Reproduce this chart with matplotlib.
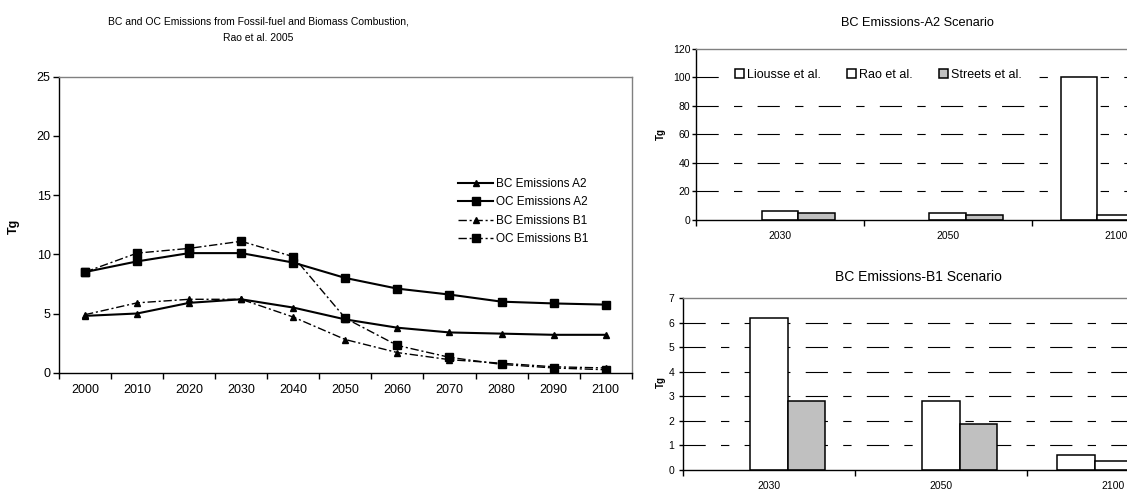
import numpy as np
import matplotlib
matplotlib.use("Agg")
import matplotlib.pyplot as plt
from matplotlib.ticker import FixedLocator, NullFormatter, FixedFormatter

plt.rcParams['font.family'] = ['Liberation Sans', 'DejaVu Sans']
plt.rcParams['lines.scale_dashes'] = False

# ---- Rao et al. 2005 projections (Tg) ----
years = ['2000', '2010', '2020', '2030', '2040', '2050',
         '2060', '2070', '2080', '2090', '2100']
bc_a2 = [4.8, 5.0, 5.9, 6.2, 5.5, 4.5, 3.8, 3.4, 3.3, 3.2, 3.2]
oc_a2 = [8.5, 9.4, 10.1, 10.1, 9.3, 8.0, 7.1, 6.6, 6.0, 5.85, 5.75]
bc_b1 = [4.9, 5.9, 6.2, 6.2, 4.7, 2.8, 1.7, 1.1, 0.8, 0.5, 0.4]
oc_b1 = [8.5, 10.1, 10.5, 11.1, 9.8, 4.6, 2.3, 1.3, 0.7, 0.4, 0.25]

# ---- BC comparison between studies ----
scen_years = ['2030', '2050', '2100']
a2_liousse = [np.nan, np.nan, 100.0]
a2_rao = [6.2, 4.5, 3.2]
a2_streets = [4.9, 3.5, np.nan]
b1_liousse = [np.nan, np.nan, 0.6]
b1_rao = [6.2, 2.8, 0.35]
b1_streets = [2.8, 1.85, np.nan]
study_names = ['Liousse et al.', 'Rao et al.', 'Streets et al.']

W, H = 1127, 492
fig = plt.figure(figsize=(W / 100, H / 100), dpi=100)


def px_axes(left, top, right, bottom):
    return fig.add_axes([left / W, (H - bottom) / H, (right - left) / W, (bottom - top) / H])


def style_box(ax):
    ax.spines['left'].set_color('black')
    ax.spines['bottom'].set_color('black')
    ax.spines['top'].set_color('#808080')
    ax.spines['right'].set_color('#808080')
    for s in ax.spines.values():
        s.set_linewidth(1.0)


def category_axis(ax, labels, fontsize, pad):
    n = len(labels)
    ax.set_xlim(-0.5, n - 0.5)
    ax.xaxis.set_major_locator(FixedLocator(np.arange(n + 1) - 0.5))
    ax.xaxis.set_major_formatter(NullFormatter())
    ax.xaxis.set_minor_locator(FixedLocator(np.arange(n)))
    ax.xaxis.set_minor_formatter(FixedFormatter(labels))
    ax.tick_params(axis='x', which='major', direction='out', length=4, width=1, colors='black')
    ax.tick_params(axis='x', which='minor', length=0, labelsize=fontsize, pad=pad)


# ---------------- Left: line chart ----------------
ax = px_axes(59, 76.7, 631.7, 372.7)
style_box(ax)
x = np.arange(len(years))
dashdot = (0, (6, 2, 1.5, 2))
ax.plot(x, bc_a2, color='black', lw=1.5, marker='^', ms=5, label='BC Emissions A2')
ax.plot(x, oc_a2, color='black', lw=1.5, marker='s', ms=5.5, label='OC Emissions A2')
ax.plot(x, bc_b1, color='black', lw=1.0, ls=dashdot, marker='^', ms=5, label='BC Emissions B1')
ax.plot(x, oc_b1, color='black', lw=1.0, ls=dashdot, marker='s', ms=5.5, label='OC Emissions B1')
ax.set_ylim(0, 25)
ax.set_yticks([0, 5, 10, 15, 20, 25])
ax.tick_params(axis='y', direction='out', length=4, width=1, labelsize=9, pad=2)
category_axis(ax, years, 9, 8)
fig.text(13.5 / W, 1 - 226 / H, 'Tg', rotation=90, ha='center', va='center',
         fontsize=9, fontweight='bold')
ax.legend(loc='upper left', bbox_to_anchor=(452 / W, 1 - 172 / H),
          bbox_transform=fig.transFigure, frameon=False, fontsize=8.5,
          handlelength=3.0, handletextpad=0.2, labelspacing=0.55, borderpad=0)
fig.text(258 / W, 1 - 22 / H,
         'BC and OC Emissions from Fossil-fuel and Biomass Combustion,',
         ha='center', va='center', fontsize=7.5)
fig.text(258 / W, 1 - 38 / H, 'Rao et al. 2005', ha='center', va='center', fontsize=7.5)


# ---------------- Right: bar charts ----------------
grid_dashes = (16, 11, 6, 11)
bw = 0.218


def bar_panel(ax, liousse, rao, streets, ymax, ystep, ypad):
    style_box(ax)
    xc = np.arange(len(scen_years))
    ax.set_ylim(0, ymax)
    ax.set_yticks(np.arange(0, ymax + ystep / 2, ystep))
    for yv in np.arange(ystep, ymax, ystep):
        ax.axhline(yv, color='black', lw=0.8, dashes=grid_dashes, zorder=0.5)
    ax.bar(xc - bw, liousse, bw, color='white', edgecolor='black', lw=1.1,
           label=study_names[0], zorder=2)
    ax.bar(xc, rao, bw, color='white', edgecolor='black', lw=1.1,
           label=study_names[1], zorder=2)
    ax.bar(xc + bw, streets, bw, color='#c0c0c0', edgecolor='black', lw=1.1,
           label=study_names[2], zorder=2)
    category_axis(ax, scen_years, 7.5, 8)
    ax.tick_params(axis='y', direction='out', length=3, width=1, labelsize=7.5, pad=ypad)


ax2 = px_axes(696, 49, 1199.5, 219.5)
bar_panel(ax2, a2_liousse, a2_rao, a2_streets, 120, 20, 1)
leg = ax2.legend(loc='upper left', bbox_to_anchor=(716 / W, 1 - 50 / H),
                 bbox_transform=fig.transFigure, ncol=3, frameon=True, fontsize=9,
                 handlelength=0.72, handleheight=0.72, handletextpad=0.25,
                 columnspacing=2.1, borderpad=1.0, fancybox=False)
leg.get_frame().set_facecolor('white')
leg.get_frame().set_edgecolor('none')
leg.get_frame().set_alpha(1.0)
leg.set_zorder(5)
fig.text(661 / W, 1 - 134 / H, 'Tg', rotation=90, ha='center', va='center',
         fontsize=7, fontweight='bold')
fig.text(917 / W, 1 - 23 / H, 'BC Emissions-A2 Scenario', ha='center', va='center', fontsize=9.2)

ax3 = px_axes(682.7, 298.3, 1199.6, 469.8)
bar_panel(ax3, b1_liousse, b1_rao, b1_streets, 7, 1, 3)
fig.text(661 / W, 1 - 382 / H, 'Tg', rotation=90, ha='center', va='center',
         fontsize=7, fontweight='bold')
fig.text(918 / W, 1 - 277 / H, 'BC Emissions-B1 Scenario', ha='center', va='center', fontsize=10)

fig.savefig('out.png', dpi=100)
